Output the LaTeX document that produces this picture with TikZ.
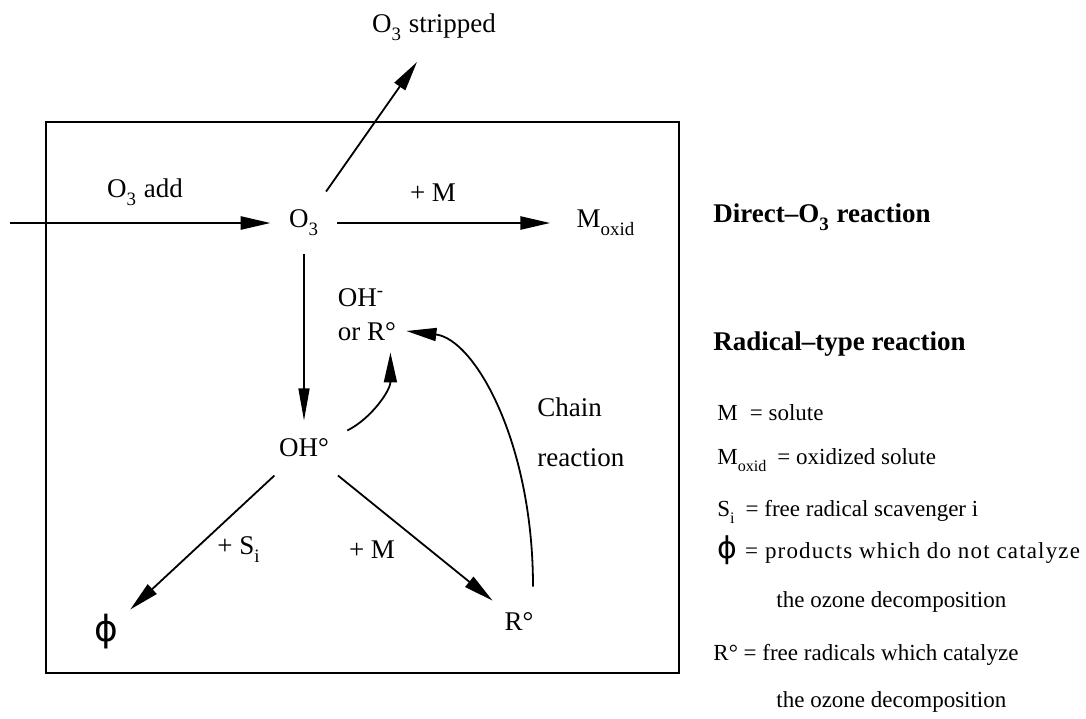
\documentclass[tikz,border=0pt]{standalone}
\usepackage{fontspec}
\setmainfont{Liberation Serif}
\newfontfamily\phifont{DejaVu Sans}
\usetikzlibrary{arrows.meta}
\newcommand\lowsub[1]{\raisebox{-0.3ex}{\textsubscript{#1}}}
\begin{document}
\begin{tikzpicture}[x=0.5pt,y=-0.5pt,
  lbl/.style={font=\fontsize{13.5}{17}\selectfont, inner sep=0pt},
  leg/.style={font=\fontsize{11.5}{14}\selectfont, anchor=west, inner sep=0pt},
  hdr/.style={font=\fontsize{13.5}{16}\selectfont\bfseries, anchor=west, inner sep=0pt},
  spc/.style={lbl, inner sep=9pt},
  arr/.style={-{Triangle[length=15pt,width=6.5pt]}, line width=0.9pt},
  harr/.style={arr, line width=1.3pt},
  varr/.style={-{Triangle[length=16pt,width=5.5pt]}, line width=0.7pt},
  frame/.style={line width=1.3pt}]
\useasboundingbox (0,0) rectangle (1086,718);
% frame
\draw[frame] (46,122) rectangle (679,673);
% nodes
\node[spc] (o3) at (304,223) {O\lowsub{3}};
\node[lbl] (strip) at (434,27) {O\lowsub{3} stripped};
\coordinate (tipS) at (417,62);
\coordinate (inL) at (10,223);
\node[lbl] (add) at (145,192) {O\lowsub{3} add};
\node[lbl] (pm1) at (433,193) {+ M};
\node[lbl, inner sep=13pt] (moxid) at (606,223) {M\lowsub{oxid}};
\node[lbl, align=left, inner sep=2pt] (ohm) at (367,315) {OH\textsuperscript{-}\\or R°};
\node[spc] (ohr) at (304,448) {OH°};
\node[lbl, align=left, anchor=west] (chain) at (537,432) {Chain\\[8pt]reaction};
\node[lbl] (pS) at (239,550) {+ S\lowsub{i}};
\node[lbl] (pM2) at (372,550) {+ M};
\node[lbl, inner sep=6pt, font=\phifont\fontsize{18}{20}\selectfont] (phi) at (106,632) {ϕ};
\node[lbl, inner sep=6pt] (ro) at (519,622) {R°};
% arrows
\draw[harr] (inL) -- (o3.west);
\draw[arr] (o3) -- (tipS);
\draw[harr] (o3.east) -- (moxid.west |- o3.east);
\draw[varr] (o3.south) -- (ohr.north);
\draw[arr] (ohr) -- (phi);
\draw[arr] (ohr) -- (ro);
\draw[arr] ([yshift=-5pt]ohr.north east) .. controls +(24,-12) and +(0,38) .. ([xshift=-5pt,yshift=-3.5pt]ohm.south east);
\draw[arr] ([xshift=7pt,yshift=7pt]ro.north) .. controls +(0,-145) and +(68,8) .. ([xshift=3pt,yshift=-8pt]ohm.east);
% legend
\node[hdr] (h1) at (713,217) {Direct--O\lowsub{3} reaction};
\node[hdr] (h2) at (713,344) {Radical--type reaction};
\node[leg] (l1) at (717,413) {M\hspace{6pt}= solute};
\node[leg] (l2) at (717,460) {M\lowsub{oxid}\hspace{5pt}= oxidized solute};
\node[leg] (l3) at (717,512) {S\lowsub{i}\hspace{5pt}= free radical scavenger i};
\node[leg] (l4) at (717,550) {{\phifont\fontsize{15}{18}\selectfont ϕ}\hspace{4pt}{\addfontfeature{LetterSpace=5}= products which do not catalyze}};
\node[leg] (l5) at (776,602) {the ozone decomposition};
\node[leg] (l6) at (713,655) {R° = free radicals which catalyze};
\node[leg] (l7) at (776,702) {the ozone decomposition};
\end{tikzpicture}
\end{document}
